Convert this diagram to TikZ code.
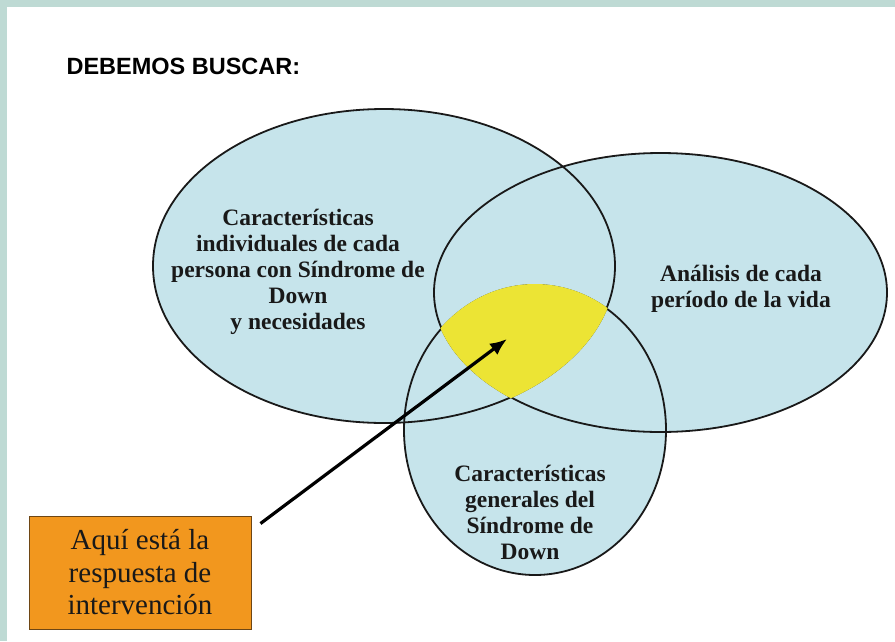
\documentclass[tikz,border=0pt]{standalone}
\usepackage{fontspec}
\setmainfont{Liberation Serif}
\newfontfamily\arialfont{Liberation Sans}
\usetikzlibrary{arrows.meta}
\definecolor{vennblue}{RGB}{198,228,235}
\definecolor{vennyellow}{RGB}{236,228,52}
\definecolor{boxorange}{RGB}{242,151,30}
\definecolor{boxbrown}{RGB}{110,70,20}
\definecolor{frameteal}{RGB}{190,218,212}
\tikzset{
  venntext/.style={align=center, text=black!90, font=\fontsize{23.5}{26}\selectfont\bfseries},
  vennline/.style={line width=1.8pt, draw=black!90},
  answerbox/.style={draw=boxbrown, fill=boxorange, line width=1pt, align=center,
    minimum width=222pt, minimum height=113pt, text=black!90,
    font=\fontsize{29}{32.5}\selectfont},
}

\begin{document}
\begin{tikzpicture}[x=1pt,y=-1pt]
\fill[frameteal] (0,0) rectangle (895,641);
\fill[white] (7,7) rectangle (895,641);
\useasboundingbox (0,0) rectangle (895,641);

\node[anchor=base west, font=\arialfont\bfseries\fontsize{23.5}{28}\selectfont] (title) at (63,74) {DEBEMOS BUSCAR:};

\fill[vennblue] (384,266) ellipse (231pt and 157pt);
\fill[vennblue] (660.5,292.5) ellipse (226.5pt and 139.5pt);
\fill[vennblue] (535,430) ellipse (131pt and 145pt);
\draw[vennline] (384,266) ellipse (231pt and 157pt);
\draw[vennline] (660.5,292.5) ellipse (226.5pt and 139.5pt);
\draw[vennline] (535,430) ellipse (131pt and 145pt);

\begin{scope}
\clip (384,266) ellipse (232pt and 158pt);
\clip (660.5,292.5) ellipse (227.5pt and 140.5pt);
\fill[vennyellow] (535,430) ellipse (132pt and 146pt);
\end{scope}

\node[venntext] (persona) at (298,272) {Características\\individuales de cada\\persona con Síndrome de\\Down\\y necesidades};
\node[venntext] (periodo) at (741,289) {Análisis de cada\\período de la vida};
\node[venntext] (generales) at (530,512) {Características\\generales del\\Síndrome de\\Down};

\node[answerbox] (answer) at (140,572.5) {Aquí está la\\respuesta de\\intervención};
\coordinate (centre) at (507,339);
\draw[line width=3.2pt, -{Latex[length=17pt,width=14pt]}] ([xshift=9pt,yshift=-8pt]answer.north east) -- (centre);
\end{tikzpicture}
\end{document}
